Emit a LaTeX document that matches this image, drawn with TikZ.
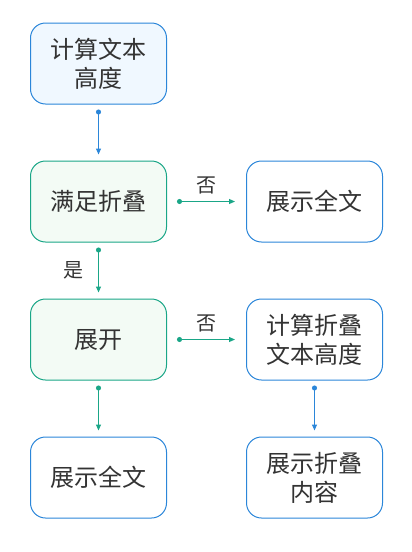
\documentclass[tikz,border=0pt]{standalone}
\usepackage{fontspec}
\setmainfont{Noto Sans CJK SC}
\usetikzlibrary{positioning,arrows.meta}
\definecolor{flowblue}{HTML}{2B86D9}
\definecolor{flowgreen}{HTML}{1AA687}
\definecolor{fillblue}{HTML}{F0F8FF}
\definecolor{fillgreen}{HTML}{F3FBF5}
\definecolor{txt}{HTML}{333333}

\begin{document}
\begin{tikzpicture}[node distance=138pt and 216pt,on grid,auto,
    blk/.style={draw=flowblue,rounded corners=15pt,line width=1pt,minimum width=136pt,
      minimum height=81pt,align=center,text=txt,font=\fontsize{24}{29}\selectfont},
    gblk/.style={blk,draw=flowgreen,fill=fillgreen},
    link/.style={line width=1pt,{Circle[length=5pt]}-{Triangle[length=6pt,width=5pt]},
      shorten <=5pt,shorten >=6pt},
    hlink/.style={link,shorten <=10pt,shorten >=11pt},
    lbl/.style={font=\fontsize{20}{22}\selectfont,text=txt}]
    \useasboundingbox (0,0) rectangle (412pt,-552pt);
    \node[blk,fill=fillblue] (q_height) at (98.5pt,-63.5pt) {计算文本\\高度};
    \node[gblk] (q_fold) [below=of q_height] {满足折叠};
    \node[blk] (q_full) [right=of q_fold] {展示全文};
    \node[gblk] (q_open) [below=of q_fold] {展开};
    \node[blk] (q_foldheight) [right=of q_open] {计算折叠\\文本高度};
    \node[blk] (q_fullbottom) [below=of q_open] {展示全文};
    \node[blk] (q_showfold) [below=of q_foldheight] {展示折叠\\内容};
    \path
    (q_height) edge[link,flowblue] (q_fold)
    (q_fold) edge[hlink,flowgreen] node[lbl,above=4pt] {否} (q_full)
    (q_fold) edge[link,flowgreen] node[lbl,left=11pt] {是} (q_open)
    (q_open) edge[hlink,flowgreen] node[lbl,above=4pt] {否} (q_foldheight)
    (q_open) edge[link,flowgreen] (q_fullbottom)
    (q_foldheight) edge[link,flowblue] (q_showfold)
    ; %end path
\end{tikzpicture}
\end{document}
